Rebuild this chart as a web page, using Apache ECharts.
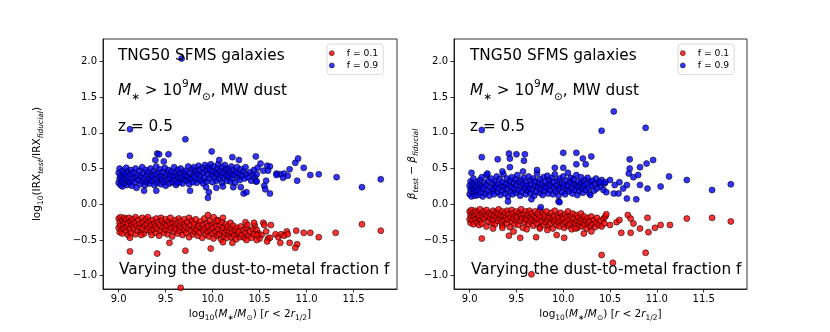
<!DOCTYPE html>
<html><head><meta charset="utf-8">
<script src="https://cdn.jsdelivr.net/npm/echarts@6/dist/echarts.min.js"></script>
<style>html,body{margin:0;padding:0;background:#fff}#c{width:830px;height:332px}</style>
</head><body><div id="c"></div>
<script>
const xTicks=[9.0,9.5,10.0,10.5,11.0,11.5];
const yTicks=[-1.0,-0.5,0.0,0.5,1.0,1.5,2.0];
const seriesNames=['f = 0.1','f = 0.9'];

const leftBlueCore=[[9.00,0.30],[9.00,0.44],[9.01,0.36],[9.01,0.50],[9.02,0.27],[9.02,0.40],[9.03,0.33],[9.04,0.47],[9.04,0.25],[9.05,0.38],[9.06,0.43],[9.06,0.29],[9.07,0.35],[9.08,0.51],[9.08,0.41],[9.09,0.27],[9.10,0.46],[9.10,0.33],[9.11,0.38],[9.12,0.30],[9.13,0.48],[9.13,0.42],[9.14,0.26],[9.15,0.35],[9.16,0.44],[9.17,0.31],[9.18,0.50],[9.18,0.38],[9.19,0.23],[9.20,0.41],[9.21,0.34],[9.22,0.47],[9.23,0.28],[9.24,0.39],[9.25,0.52],[9.25,0.32],[9.26,0.43],[9.27,0.36],[9.28,0.27],[9.29,0.48],[9.30,0.40],[9.30,0.31],[9.31,0.45],[9.32,0.35],[9.33,0.29],[9.34,0.50],[9.35,0.41],[9.35,0.33],[9.36,0.38],[9.37,0.46],[9.38,0.27],[9.39,0.42],[9.40,0.34],[9.40,0.53],[9.41,0.30],[9.42,0.44],[9.43,0.37],[9.44,0.49],[9.45,0.28],[9.45,0.40],[9.46,0.34],[9.47,0.45],[9.48,0.31],[9.49,0.51],[9.50,0.39],[9.50,0.26],[9.51,0.43],[9.52,0.35],[9.53,0.48],[9.54,0.29],[9.55,0.41],[9.55,0.36],[9.56,0.46],[9.57,0.31],[9.58,0.39],[9.59,0.52],[9.60,0.34],[9.60,0.44],[9.61,0.27],[9.62,0.40],[9.63,0.48],[9.64,0.36],[9.65,0.31],[9.65,0.43],[9.66,0.50],[9.67,0.38],[9.68,0.29],[9.69,0.45],[9.70,0.35],[9.70,0.41],[9.71,0.47],[9.72,0.33],[9.73,0.40],[9.74,0.53],[9.75,0.37],[9.75,0.28],[9.76,0.44],[9.77,0.35],[9.78,0.49],[9.79,0.31],[9.80,0.41],[9.80,0.52],[9.81,0.38],[9.82,0.46],[9.83,0.30],[9.84,0.43],[9.85,0.54],[9.85,0.35],[9.86,0.48],[9.87,0.40],[9.88,0.33],[9.89,0.51],[9.90,0.44],[9.90,0.29],[9.91,0.37],[9.92,0.55],[9.93,0.47],[9.94,0.32],[9.95,0.42],[9.95,0.52],[9.96,0.36],[9.97,0.49],[9.98,0.56],[9.99,0.41],[10.00,0.31],[10.00,0.46],[10.01,0.53],[10.02,0.38],[10.03,0.45],[10.04,0.33],[10.05,0.50],[10.05,0.42],[10.06,0.56],[10.07,0.36],[10.08,0.47],[10.09,0.40],[10.10,0.30],[10.10,0.52],[10.11,0.44],[10.12,0.37],[10.13,0.55],[10.14,0.48],[10.15,0.33],[10.15,0.41],[10.16,0.50],[10.17,0.39],[10.18,0.45],[10.19,0.32],[10.20,0.53],[10.20,0.42],[10.21,0.36],[10.22,0.48],[10.23,0.41],[10.24,0.30],[10.25,0.45],[10.26,0.52],[10.27,0.38],[10.28,0.43],[10.29,0.34],[10.30,0.49],[10.31,0.40],[10.33,0.46],[10.34,0.36],[10.35,0.52],[10.36,0.42],[10.38,0.38],[10.40,0.45],[10.41,0.33],[10.43,0.41],[10.44,0.48],[10.45,0.37]];
const leftBlueOut=[[9.67,2.04],[9.12,1.05],[9.71,0.91],[9.12,0.68],[9.41,0.71],[9.43,0.70],[9.53,0.70],[9.39,0.62],[9.99,0.74],[10.07,0.62],[10.21,0.66],[10.28,0.62],[10.46,0.67],[9.48,0.60],[9.27,0.19],[9.40,0.19],[9.76,0.19],[9.96,0.17],[9.95,0.09],[10.04,0.23],[10.11,0.25],[10.22,0.24],[10.30,0.24],[10.33,0.15],[10.36,0.17],[9.93,0.24],[9.62,0.30],[10.46,0.32],[10.91,0.64],[10.88,0.58],[10.97,0.51],[10.51,0.57],[10.58,0.54],[10.61,0.53],[10.48,0.51],[10.54,0.47],[10.59,0.47],[10.68,0.43],[10.72,0.42],[10.76,0.43],[10.80,0.40],[10.82,0.49],[10.75,0.37],[10.68,0.41],[10.47,0.42],[10.47,0.32],[10.57,0.33],[10.55,0.26],[10.56,0.21],[10.61,0.15],[10.90,0.33],[11.04,0.41],[11.13,0.42],[11.32,0.38],[11.59,0.24],[11.79,0.35]];
const leftRedCore=[[9.00,-0.20],[9.00,-0.33],[9.01,-0.26],[9.01,-0.39],[9.02,-0.18],[9.02,-0.30],[9.03,-0.36],[9.04,-0.23],[9.04,-0.41],[9.05,-0.28],[9.06,-0.19],[9.06,-0.34],[9.07,-0.25],[9.08,-0.38],[9.08,-0.21],[9.09,-0.31],[9.10,-0.43],[9.10,-0.27],[9.11,-0.19],[9.12,-0.35],[9.13,-0.24],[9.13,-0.40],[9.14,-0.29],[9.15,-0.21],[9.16,-0.33],[9.17,-0.26],[9.18,-0.42],[9.18,-0.18],[9.19,-0.30],[9.20,-0.37],[9.21,-0.22],[9.22,-0.32],[9.23,-0.27],[9.24,-0.39],[9.25,-0.19],[9.25,-0.34],[9.26,-0.25],[9.27,-0.41],[9.28,-0.30],[9.29,-0.21],[9.30,-0.36],[9.30,-0.28],[9.31,-0.18],[9.32,-0.33],[9.33,-0.24],[9.34,-0.38],[9.35,-0.29],[9.35,-0.43],[9.36,-0.22],[9.37,-0.35],[9.38,-0.27],[9.39,-0.31],[9.40,-0.40],[9.40,-0.20],[9.41,-0.34],[9.42,-0.25],[9.43,-0.44],[9.44,-0.29],[9.45,-0.19],[9.45,-0.37],[9.46,-0.23],[9.47,-0.32],[9.48,-0.40],[9.49,-0.27],[9.50,-0.21],[9.50,-0.35],[9.51,-0.30],[9.52,-0.42],[9.53,-0.24],[9.54,-0.36],[9.55,-0.19],[9.55,-0.28],[9.56,-0.33],[9.57,-0.45],[9.58,-0.26],[9.59,-0.38],[9.60,-0.22],[9.60,-0.31],[9.61,-0.35],[9.62,-0.27],[9.63,-0.41],[9.64,-0.20],[9.65,-0.30],[9.65,-0.37],[9.66,-0.24],[9.67,-0.33],[9.68,-0.43],[9.69,-0.28],[9.70,-0.21],[9.70,-0.36],[9.71,-0.31],[9.72,-0.40],[9.73,-0.25],[9.74,-0.34],[9.75,-0.46],[9.75,-0.19],[9.76,-0.29],[9.77,-0.37],[9.78,-0.23],[9.79,-0.42],[9.80,-0.32],[9.80,-0.27],[9.81,-0.38],[9.82,-0.21],[9.83,-0.35],[9.84,-0.44],[9.85,-0.28],[9.85,-0.31],[9.86,-0.40],[9.87,-0.24],[9.88,-0.33],[9.89,-0.47],[9.90,-0.29],[9.90,-0.37],[9.91,-0.20],[9.92,-0.34],[9.93,-0.42],[9.94,-0.27],[9.95,-0.38],[9.95,-0.31],[9.96,-0.45],[9.97,-0.23],[9.98,-0.36],[9.99,-0.29],[10.00,-0.41],[10.00,-0.33],[10.01,-0.48],[10.02,-0.27],[10.03,-0.39],[10.04,-0.31],[10.05,-0.44],[10.05,-0.22],[10.06,-0.35],[10.07,-0.42],[10.08,-0.29],[10.09,-0.49],[10.10,-0.37],[10.10,-0.25],[10.11,-0.33],[10.12,-0.45],[10.13,-0.40],[10.14,-0.28],[10.15,-0.36],[10.15,-0.47],[10.16,-0.31],[10.17,-0.42],[10.18,-0.38],[10.19,-0.26],[10.20,-0.46],[10.20,-0.34],[10.21,-0.40],[10.22,-0.30],[10.23,-0.44],[10.24,-0.36],[10.25,-0.49],[10.26,-0.33],[10.27,-0.41],[10.28,-0.38],[10.29,-0.46],[10.30,-0.31],[10.31,-0.43],[10.33,-0.36],[10.34,-0.47],[10.35,-0.40],[10.36,-0.33],[10.38,-0.44],[10.40,-0.38],[10.41,-0.47],[10.43,-0.35],[10.44,-0.42],[10.45,-0.30]];
const leftRedOut=[[10.54,-0.26],[10.55,-0.29],[10.62,-0.29],[10.47,-0.36],[10.49,-0.41],[10.52,-0.43],[10.57,-0.38],[10.50,-0.48],[10.47,-0.50],[10.59,-0.48],[10.61,-0.47],[10.58,-0.52],[10.67,-0.42],[10.70,-0.46],[10.73,-0.42],[10.76,-0.44],[10.79,-0.38],[10.80,-0.42],[10.72,-0.54],[10.82,-0.54],[10.90,-0.56],[10.88,-0.61],[10.89,-0.37],[10.97,-0.40],[11.04,-0.40],[11.13,-0.46],[11.31,-0.40],[11.59,-0.28],[11.79,-0.37],[9.54,-0.54],[9.12,-0.66],[9.41,-0.69],[9.71,-0.65],[9.98,-0.62],[9.66,-1.17],[9.24,-0.43],[10.47,-0.43],[9.95,-0.15],[10.01,-0.18],[10.11,-0.19],[10.05,-0.23],[10.35,-0.25],[10.44,-0.26],[10.37,-0.29],[9.12,-0.47],[10.11,-0.53],[10.21,-0.54],[10.36,-0.50]];

const rightBlueCore=[[9.00,0.14],[9.00,0.26],[9.01,0.20],[9.01,0.32],[9.02,0.11],[9.02,0.23],[9.03,0.29],[9.04,0.17],[9.04,0.36],[9.05,0.21],[9.06,0.12],[9.06,0.27],[9.07,0.18],[9.08,0.31],[9.08,0.24],[9.09,0.13],[9.10,0.28],[9.10,0.20],[9.11,0.34],[9.12,0.16],[9.13,0.25],[9.13,0.38],[9.14,0.11],[9.15,0.22],[9.16,0.30],[9.17,0.15],[9.18,0.27],[9.18,0.41],[9.19,0.19],[9.20,0.33],[9.21,0.12],[9.22,0.24],[9.23,0.36],[9.24,0.18],[9.25,0.29],[9.25,0.21],[9.26,0.14],[9.27,0.32],[9.28,0.25],[9.29,0.39],[9.30,0.17],[9.30,0.28],[9.31,0.22],[9.32,0.35],[9.33,0.13],[9.34,0.26],[9.35,0.31],[9.35,0.19],[9.36,0.42],[9.37,0.24],[9.38,0.15],[9.39,0.29],[9.40,0.36],[9.40,0.21],[9.41,0.11],[9.42,0.27],[9.43,0.33],[9.44,0.18],[9.45,0.24],[9.45,0.38],[9.46,0.14],[9.47,0.30],[9.48,0.22],[9.49,0.35],[9.50,0.16],[9.50,0.27],[9.51,0.41],[9.52,0.20],[9.53,0.31],[9.54,0.12],[9.55,0.25],[9.55,0.34],[9.56,0.18],[9.57,0.28],[9.58,0.37],[9.59,0.22],[9.60,0.14],[9.60,0.31],[9.61,0.26],[9.62,0.19],[9.63,0.39],[9.64,0.23],[9.65,0.33],[9.65,0.15],[9.66,0.28],[9.67,0.21],[9.68,0.36],[9.69,0.12],[9.70,0.26],[9.70,0.32],[9.71,0.18],[9.72,0.43],[9.73,0.24],[9.74,0.30],[9.75,0.16],[9.75,0.35],[9.76,0.21],[9.77,0.28],[9.78,0.13],[9.79,0.38],[9.80,0.25],[9.80,0.19],[9.81,0.32],[9.82,0.23],[9.83,0.40],[9.84,0.15],[9.85,0.29],[9.85,0.34],[9.86,0.20],[9.87,0.26],[9.88,0.37],[9.89,0.14],[9.90,0.31],[9.90,0.23],[9.91,0.42],[9.92,0.18],[9.93,0.27],[9.94,0.33],[9.95,0.21],[9.95,0.12],[9.96,0.36],[9.97,0.25],[9.98,0.30],[9.99,0.17],[10.00,0.39],[10.00,0.24],[10.01,0.28],[10.02,0.14],[10.03,0.33],[10.04,0.21],[10.05,0.44],[10.05,0.26],[10.06,0.18],[10.07,0.31],[10.08,0.37],[10.09,0.23],[10.10,0.15],[10.10,0.29],[10.11,0.35],[10.12,0.20],[10.13,0.27],[10.14,0.41],[10.15,0.24],[10.15,0.13],[10.16,0.32],[10.17,0.19],[10.18,0.28],[10.19,0.38],[10.20,0.22],[10.20,0.30],[10.21,0.16],[10.22,0.26],[10.23,0.34],[10.24,0.20],[10.25,0.29],[10.26,0.37],[10.27,0.23],[10.28,0.15],[10.29,0.31],[10.30,0.26],[10.31,0.33],[10.33,0.19],[10.34,0.28],[10.35,0.36],[10.36,0.22],[10.38,0.30],[10.40,0.25],[10.41,0.34],[10.43,0.20],[10.44,0.29],[10.45,0.31]];
const rightBlueOut=[[9.13,1.04],[10.41,1.03],[10.54,1.30],[10.88,1.07],[9.13,0.66],[9.30,0.63],[9.42,0.71],[9.43,0.64],[9.50,0.70],[9.59,0.70],[9.58,0.61],[10.00,0.72],[10.14,0.72],[10.21,0.64],[10.24,0.56],[10.30,0.67],[10.14,0.56],[9.43,0.52],[9.35,0.46],[9.02,0.44],[9.19,0.43],[9.57,0.46],[9.72,0.48],[9.91,0.51],[10.00,0.51],[10.39,0.31],[10.71,0.63],[10.82,0.52],[10.89,0.57],[10.96,0.62],[10.71,0.50],[9.95,0.04],[9.66,0.07],[10.29,0.13],[10.46,0.17],[9.76,-0.04],[9.96,0.03],[10.78,0.07],[9.41,0.04],[10.70,0.43],[10.75,0.38],[10.80,0.41],[10.82,0.27],[10.68,0.27],[10.64,0.22],[10.68,0.08],[10.90,0.22],[11.04,0.25],[11.13,0.39],[11.32,0.34],[11.59,0.20],[11.79,0.28],[10.50,0.34],[10.55,0.27],[10.60,0.31],[10.54,0.15],[10.59,0.15]];
const rightRedCore=[[9.00,-0.10],[9.00,-0.21],[9.01,-0.15],[9.01,-0.26],[9.02,-0.08],[9.02,-0.18],[9.03,-0.23],[9.04,-0.12],[9.04,-0.28],[9.05,-0.17],[9.06,-0.09],[9.06,-0.21],[9.07,-0.14],[9.08,-0.25],[9.08,-0.11],[9.09,-0.19],[9.10,-0.29],[9.10,-0.16],[9.11,-0.07],[9.12,-0.22],[9.13,-0.13],[9.13,-0.27],[9.14,-0.18],[9.15,-0.10],[9.16,-0.20],[9.17,-0.15],[9.18,-0.31],[9.18,-0.08],[9.19,-0.17],[9.20,-0.24],[9.21,-0.12],[9.22,-0.19],[9.23,-0.14],[9.24,-0.26],[9.25,-0.09],[9.25,-0.21],[9.26,-0.16],[9.27,-0.28],[9.28,-0.11],[9.29,-0.18],[9.30,-0.23],[9.30,-0.13],[9.31,-0.07],[9.32,-0.20],[9.33,-0.15],[9.34,-0.25],[9.35,-0.10],[9.35,-0.30],[9.36,-0.17],[9.37,-0.22],[9.38,-0.12],[9.39,-0.19],[9.40,-0.27],[9.40,-0.09],[9.41,-0.21],[9.42,-0.14],[9.43,-0.32],[9.44,-0.18],[9.45,-0.08],[9.45,-0.24],[9.46,-0.13],[9.47,-0.20],[9.48,-0.28],[9.49,-0.16],[9.50,-0.10],[9.50,-0.22],[9.51,-0.18],[9.52,-0.29],[9.53,-0.12],[9.54,-0.23],[9.55,-0.07],[9.55,-0.16],[9.56,-0.20],[9.57,-0.33],[9.58,-0.14],[9.59,-0.25],[9.60,-0.10],[9.60,-0.19],[9.61,-0.22],[9.62,-0.15],[9.63,-0.28],[9.64,-0.09],[9.65,-0.18],[9.65,-0.24],[9.66,-0.13],[9.67,-0.21],[9.68,-0.30],[9.69,-0.16],[9.70,-0.10],[9.70,-0.23],[9.71,-0.19],[9.72,-0.27],[9.73,-0.13],[9.74,-0.21],[9.75,-0.32],[9.75,-0.08],[9.76,-0.17],[9.77,-0.24],[9.78,-0.12],[9.79,-0.29],[9.80,-0.20],[9.80,-0.15],[9.81,-0.25],[9.82,-0.10],[9.83,-0.22],[9.84,-0.31],[9.85,-0.16],[9.85,-0.19],[9.86,-0.27],[9.87,-0.12],[9.88,-0.21],[9.89,-0.34],[9.90,-0.17],[9.90,-0.24],[9.91,-0.09],[9.92,-0.22],[9.93,-0.29],[9.94,-0.15],[9.95,-0.25],[9.95,-0.19],[9.96,-0.31],[9.97,-0.12],[9.98,-0.23],[9.99,-0.17],[10.00,-0.28],[10.00,-0.20],[10.01,-0.33],[10.02,-0.14],[10.03,-0.25],[10.04,-0.18],[10.05,-0.30],[10.05,-0.10],[10.06,-0.22],[10.07,-0.28],[10.08,-0.16],[10.09,-0.35],[10.10,-0.24],[10.10,-0.13],[10.11,-0.20],[10.12,-0.31],[10.13,-0.26],[10.14,-0.15],[10.15,-0.23],[10.15,-0.33],[10.16,-0.18],[10.17,-0.28],[10.18,-0.24],[10.19,-0.13],[10.20,-0.31],[10.20,-0.21],[10.21,-0.26],[10.22,-0.17],[10.23,-0.29],[10.24,-0.22],[10.25,-0.34],[10.26,-0.19],[10.27,-0.27],[10.28,-0.24],[10.29,-0.31],[10.30,-0.17],[10.31,-0.28],[10.33,-0.22],[10.34,-0.32],[10.35,-0.26],[10.36,-0.19],[10.38,-0.29],[10.40,-0.23],[10.41,-0.31],[10.43,-0.20],[10.44,-0.27],[10.45,-0.17]];
const rightRedOut=[[9.13,-0.48],[9.42,-0.44],[9.54,-0.47],[9.71,-0.46],[9.93,-0.43],[10.22,-0.41],[10.41,-0.71],[9.66,-0.98],[9.25,-0.34],[9.35,-0.33],[9.47,-0.38],[9.61,-0.35],[9.75,-0.34],[9.83,-0.36],[10.13,-0.34],[10.30,-0.38],[10.53,-0.82],[10.88,-0.68],[10.01,-0.47],[10.62,-0.40],[10.72,-0.40],[10.82,-0.34],[10.91,-0.39],[10.98,-0.33],[11.04,-0.29],[10.90,-0.19],[11.32,-0.20],[11.59,-0.19],[11.79,-0.24],[11.14,-0.29],[10.69,-0.15],[10.72,-0.20],[10.75,-0.27],[10.50,-0.29],[10.57,-0.25],[10.60,-0.22],[10.46,-0.14]];

const FONT='DejaVu Sans';
const XMIN=8.833, XMAX=11.963, YMIN=-1.186, YMAX=2.314;
const fmt=v=>(v<0?'\u2212'+Math.abs(v).toFixed(1):v.toFixed(1));
const nameRich={
  r:{fontSize:10.5,fontFamily:FONT,color:'#000',lineHeight:16},
  i:{fontSize:10.5,fontFamily:FONT,fontStyle:'italic',color:'#000',lineHeight:16},
  s:{fontSize:7.5,fontFamily:FONT,color:'#000',lineHeight:9,verticalAlign:'bottom'},
  si:{fontSize:7.5,fontFamily:FONT,fontStyle:'italic',color:'#000',lineHeight:9,verticalAlign:'bottom'}
};
const xName='{r|log}{s|10}{r|(}{i|M}{s|\u2217}{r|/}{i|M}{s|\u2299}{r|) [}{i|r}{r| < 2}{i|r}{s|1/2}{r|]}';
const yNameL='{r|log}{s|10}{r|(IRX}{si|test}{r|/IRX}{si|fiducial}{r|)}';
const yNameR='{i|\u03b2}{si|test}{r| \u2212 }{i|\u03b2}{si|fiducial}';

function mkX(gi){return {type:'value',gridIndex:gi,min:XMIN,max:XMAX,
  axisLine:{show:true,onZero:false,lineStyle:{color:'#000',width:0.8}},
  axisTick:{show:true,length:3.5,customValues:xTicks,lineStyle:{color:'#000',width:0.8}},
  axisLabel:{customValues:xTicks,formatter:fmt,color:'#000',fontSize:10,fontFamily:FONT,margin:5},
  splitLine:{show:false},
  name:xName,nameLocation:'middle',nameGap:17,nameTextStyle:{rich:nameRich}};}
function mkY(gi,nm,gap){return {type:'value',gridIndex:gi,min:YMIN,max:YMAX,
  axisLine:{show:true,onZero:false,lineStyle:{color:'#000',width:0.8}},
  axisTick:{show:true,length:3.5,customValues:yTicks,lineStyle:{color:'#000',width:0.8}},
  axisLabel:{customValues:yTicks,formatter:fmt,color:'#000',fontSize:10,fontFamily:FONT,margin:6},
  splitLine:{show:false},
  name:nm,nameLocation:'middle',nameRotate:90,nameGap:gap,nameTextStyle:{rich:nameRich}};}
function mkS(name,gi,data,color){return {type:'scatter',name:name,xAxisIndex:gi,yAxisIndex:gi,data:data,
  symbolSize:6,itemStyle:{color:color,borderColor:'#000',borderWidth:0.7,opacity:0.8},emphasis:{disabled:true}};}

const txtRich={
  b:{fontSize:15.3,fontFamily:FONT,fill:'#000',lineHeight:24},
  i:{fontSize:15.3,fontFamily:FONT,fontStyle:'italic',fill:'#000',lineHeight:24},
  sb:{fontSize:10.5,fontFamily:FONT,fill:'#000',lineHeight:12,verticalAlign:'bottom'},
  sp:{fontSize:10.5,fontFamily:FONT,fill:'#000',lineHeight:12,verticalAlign:'top'}
};
function panelText(x0){
  const base={fontSize:15.3,fontFamily:FONT,fill:'#000',verticalAlign:'middle',align:'left'};
  return [
    {type:'text',z:100,style:Object.assign({},base,{x:x0,y:56,text:'TNG50 SFMS galaxies'})},
    {type:'text',z:100,style:Object.assign({},base,{x:x0,y:91,rich:txtRich,text:'{i|M}{sb|\u2217}{b| > 10}{sp|9}{i|M}{sb|\u2299}{b|, MW dust}'})},
    {type:'text',z:100,style:Object.assign({},base,{x:x0,y:127,text:'z = 0.5'})},
    {type:'text',z:100,style:Object.assign({},base,{x:x0+1,y:270,text:'Varying the dust-to-metal fraction f'})}
  ];
}
function mkLegend(left){return {left:left,top:44,orient:'vertical',data:seriesNames,icon:'circle',
  itemWidth:20,itemHeight:5,itemGap:0,padding:[3,5,3,2],
  itemStyle:{borderWidth:0.6},
  backgroundColor:'rgba(255,255,255,0.8)',borderColor:'#d0d0d0',borderWidth:0.8,borderRadius:3,
  textStyle:{fontSize:9.2,fontFamily:FONT,color:'#000',lineHeight:12.3},selectedMode:false};}

const chart=echarts.init(document.getElementById('c'),null,{renderer:'canvas'});
chart.setOption({
  animation:false,
  backgroundColor:'#fff',
  grid:[
    {left:103,top:39,width:294,height:250,show:true,borderColor:'#000',borderWidth:0.8,backgroundColor:'transparent'},
    {left:454,top:39,width:293,height:250,show:true,borderColor:'#000',borderWidth:0.8,backgroundColor:'transparent'}
  ],
  xAxis:[mkX(0),mkX(1)],
  yAxis:[mkY(0,yNameL,58),mkY(1,yNameR,30)],
  legend:[mkLegend(327),mkLegend(678)],
  series:[
    mkS(seriesNames[0],0,leftRedCore.concat(leftRedOut),'#ff0000'),
    mkS(seriesNames[1],0,leftBlueCore.concat(leftBlueOut),'#0000ff'),
    mkS(seriesNames[0],1,rightRedCore.concat(rightRedOut),'#ff0000'),
    mkS(seriesNames[1],1,rightBlueCore.concat(rightBlueOut),'#0000ff')
  ],
  graphic:panelText(118).concat(panelText(470))
});
</script></body></html>
